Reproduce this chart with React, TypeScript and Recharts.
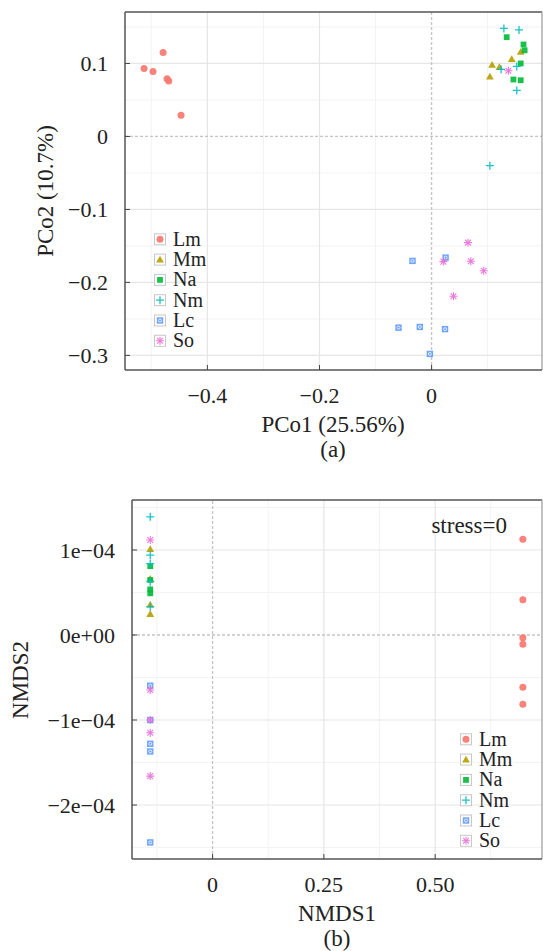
import { ScatterChart, Scatter, XAxis, YAxis, ReferenceLine } from "recharts"

// ---- PCoA scores (panel a) ----
const pcoLmX = [-0.479, -0.513, -0.497, -0.472, -0.469, -0.447]
const pcoLmY = [0.115, 0.093, 0.089, 0.079, 0.076, 0.029]
const pcoMmX = [0.159, 0.143, 0.108, 0.121, 0.104]
const pcoMmY = [0.116, 0.106, 0.098, 0.095, 0.082]
const pcoNaX = [0.134, 0.164, 0.166, 0.159, 0.146, 0.159]
const pcoNaY = [0.136, 0.126, 0.118, 0.1, 0.078, 0.077]
const pcoNmX = [0.129, 0.156, 0.124, 0.152, 0.152, 0.104]
const pcoNmY = [0.148, 0.146, 0.092, 0.096, 0.063, -0.04]
const pcoLcX = [-0.034, 0.025, -0.059, -0.021, 0.024, -0.003]
const pcoLcY = [-0.1705, -0.166, -0.262, -0.261, -0.264, -0.298]
const pcoSoX = [0.065, 0.021, 0.07, 0.093, 0.039, 0.137]
const pcoSoY = [-0.1455, -0.1715, -0.171, -0.184, -0.219, 0.09]

const pcoTicksX = [-0.4, -0.2, 0]
const pcoTicksY = [-0.3, -0.2, -0.1, 0, 0.1]
const pcoMinorX = [-0.5, -0.3, -0.1, 0.1]
const pcoMinorY = [0.15, 0.05, -0.05, -0.15, -0.25]

// ---- NMDS scores (panel b) ----
const nmdsLmX = [0.697, 0.697, 0.697, 0.697, 0.697, 0.697]
const nmdsLmY = [1.126e-4, 0.415e-4, -0.032e-4, -0.109e-4, -0.615e-4, -0.815e-4]
const nmdsMmX = [-0.14, -0.14, -0.14, -0.14]
const nmdsMmY = [1.01e-4, 0.66e-4, 0.356e-4, 0.247e-4]
const nmdsNaX = [-0.14, -0.14, -0.14, -0.14]
const nmdsNaY = [0.81e-4, 0.647e-4, 0.537e-4, 0.49e-4]
const nmdsNmX = [-0.14, -0.14, -0.14, -0.14, -0.14]
const nmdsNmY = [1.39e-4, 0.94e-4, 0.84e-4, 0.627e-4, 0.333e-4]
const nmdsLcX = [-0.14, -0.14, -0.14, -0.14, -0.14]
const nmdsLcY = [-0.596e-4, -1.0e-4, -1.28e-4, -1.37e-4, -2.44e-4]
const nmdsSoX = [-0.14, -0.14, -0.14, -0.14, -0.14]
const nmdsSoY = [1.118e-4, -0.647e-4, -1.0e-4, -1.15e-4, -1.66e-4]

const nmdsTicksX = [0, 0.25, 0.5]
const nmdsTicksY = [-2e-4, -1e-4, 0, 1e-4]
const nmdsMinorX = [-0.125, 0.125, 0.375, 0.625]
const nmdsMinorY = [1.5e-4, 0.5e-4, -0.5e-4, -1.5e-4, -2.5e-4]

const groups = ["Lm", "Mm", "Na", "Nm", "Lc", "So"]
const colors: Record<string, string> = {
    Lm: "#F8766D",
    Mm: "#B79F00",
    Na: "#00BA38",
    Nm: "#00BFC4",
    Lc: "#619CFF",
    So: "#E76BD6",
}

const FONT = "Liberation Serif, Tinos, Times New Roman, DejaVu Serif, serif"

const zip = (xs: number[], ys: number[]) => xs.map((x, i) => ({ x, y: ys[i] }))

const pcoSeries = [
    { name: "Lm", data: zip(pcoLmX, pcoLmY) },
    { name: "Mm", data: zip(pcoMmX, pcoMmY) },
    { name: "Na", data: zip(pcoNaX, pcoNaY) },
    { name: "Nm", data: zip(pcoNmX, pcoNmY) },
    { name: "Lc", data: zip(pcoLcX, pcoLcY) },
    { name: "So", data: zip(pcoSoX, pcoSoY) },
]

const nmdsSeries = [
    { name: "Lm", data: zip(nmdsLmX, nmdsLmY) },
    { name: "Mm", data: zip(nmdsMmX, nmdsMmY) },
    { name: "Na", data: zip(nmdsNaX, nmdsNaY) },
    { name: "Nm", data: zip(nmdsNmX, nmdsNmY) },
    { name: "Lc", data: zip(nmdsLcX, nmdsLcY) },
    { name: "So", data: zip(nmdsSoX, nmdsSoY) },
]

function Marker({ cx, cy, kind }: { cx: number; cy: number; kind: string }) {
    const c = colors[kind]
    switch (kind) {
        case "Lm":
            return <circle cx={cx} cy={cy} r={3.5} fill={c} opacity={0.9} />
        case "Mm":
            return <path d={`M${cx},${cy - 3.9} L${cx + 3.9},${cy + 2.9} L${cx - 3.9},${cy + 2.9} Z`} fill={c} opacity={0.9} />
        case "Na":
            return <rect x={cx - 2.9} y={cy - 2.9} width={5.8} height={5.8} fill={c} opacity={0.9} />
        case "Nm":
            return <path d={`M${cx - 4},${cy} H${cx + 4} M${cx},${cy - 4} V${cy + 4}`} stroke={c} strokeWidth={1.3} opacity={0.9} />
        case "Lc":
            return (
                <g opacity={0.9}>
                    <rect x={cx - 3.2} y={cy - 3.2} width={6.4} height={6.4} fill={c} />
                    <circle cx={cx} cy={cy} r={1.5} fill="none" stroke="#fff" strokeWidth={0.8} />
                </g>
            )
        default:
            return (
                <g stroke={c} strokeWidth={1.1} opacity={0.9}>
                    <path d={`M${cx - 4},${cy} H${cx + 4} M${cx},${cy - 4} V${cy + 4}`} />
                    <path d={`M${cx - 2.9},${cy - 2.9} L${cx + 2.9},${cy + 2.9} M${cx - 2.9},${cy + 2.9} L${cx + 2.9},${cy - 2.9}`} />
                </g>
            )
    }
}

const minus = (s: string) => s.replace(/-/g, "\u2212")

const fmtPco = (v: number) => (v === 0 ? "0" : minus(String(Math.round(v * 10) / 10)))
const fmtNmdsX = (v: number) => (v === 0 ? "0" : v.toFixed(2))
const fmtNmdsY = (v: number) => {
    if (v === 0) return "0e+00"
    const m = Math.round(v / 1e-4)
    return minus(`${m}e-04`)
}

const tickStyle = { fontFamily: FONT, fontSize: 22, fill: "#222" }
const axisLine = { stroke: "#555", strokeWidth: 1.5 }

function Legend({ x, y }: { x: number; y: number }) {
    return (
        <g>
            {groups.map((g, i) => {
                const cy = y + i * 20.3
                return (
                    <g key={g}>
                        <rect x={x - 5.5} y={cy - 5.5} width={11} height={11} fill="#fff" stroke="#c8c8c8" strokeWidth={1} />
                        <Marker cx={x} cy={cy} kind={g} />
                        <text x={x + 13} y={cy + 6.5} style={{ fontFamily: FONT, fontSize: 20 }} fill="#222">
                            {g}
                        </text>
                    </g>
                )
            })}
        </g>
    )
}

function Panel({
    series, domainX, domainY, ticksX, ticksY, minorX, minorY, fmtX, fmtY, height, marginTop, yWidth, xHeight,
}: {
    series: { name: string; data: { x: number; y: number }[] }[]
    domainX: [number, number]
    domainY: [number, number]
    ticksX: number[]
    ticksY: number[]
    minorX: number[]
    minorY: number[]
    fmtX: (v: number) => string
    fmtY: (v: number) => string
    height: number
    marginTop: number
    yWidth: number
    xHeight: number
}) {
    return (
        <ScatterChart width={543} height={height} margin={{ top: marginTop, right: 1, bottom: 0, left: 0 }} style={{ fontFamily: FONT }}>
            {minorX.map((v) => (
                <ReferenceLine key={`mx${v}`} x={v} stroke="#f3f3f3" strokeWidth={1} />
            ))}
            {minorY.map((v) => (
                <ReferenceLine key={`my${v}`} y={v} stroke="#f3f3f3" strokeWidth={1} />
            ))}
            {ticksX.filter((v) => v !== 0).map((v) => (
                <ReferenceLine key={`gx${v}`} x={v} stroke="#e6e6e6" strokeWidth={1.2} />
            ))}
            {ticksY.filter((v) => v !== 0).map((v) => (
                <ReferenceLine key={`gy${v}`} y={v} stroke="#e6e6e6" strokeWidth={1.2} />
            ))}
            <ReferenceLine x={0} stroke="#c4c4c4" strokeWidth={1.3} strokeDasharray="3 2" />
            <ReferenceLine y={0} stroke="#c4c4c4" strokeWidth={1.3} strokeDasharray="3 2" />
            <ReferenceLine y={domainY[1]} stroke="#555" strokeWidth={1.5} />
            <ReferenceLine x={domainX[1]} stroke="#999" strokeWidth={1.2} />
            <XAxis
                type="number"
                dataKey="x"
                domain={domainX}
                ticks={ticksX}
                allowDataOverflow
                height={xHeight}
                tickSize={-5}
                tickMargin={22}
                tickFormatter={fmtX}
                tick={tickStyle}
                axisLine={axisLine}
                tickLine={{ stroke: "#444" }}
            />
            <YAxis
                type="number"
                dataKey="y"
                domain={domainY}
                ticks={ticksY}
                allowDataOverflow
                width={yWidth}
                tickSize={-5}
                tickMargin={22}
                tickFormatter={fmtY}
                tick={tickStyle}
                axisLine={axisLine}
                tickLine={{ stroke: "#444" }}
            />
            {series.map((s) => (
                <Scatter
                    key={s.name}
                    name={s.name}
                    data={s.data}
                    isAnimationActive={false}
                    shape={(p: any) => <Marker cx={p.cx} cy={p.cy} kind={s.name} />}
                />
            ))}
        </ScatterChart>
    )
}

export default function App() {
    return (
        <div style={{ position: "absolute", left: 0, top: 0, width: 543, height: 951, background: "#fff", overflow: "hidden", fontFamily: FONT }}>
            <div style={{ position: "absolute", left: 0, top: 0 }}>
                <Panel
                    series={pcoSeries}
                    domainX={[-0.547, 0.197]}
                    domainY={[-0.32, 0.1705]}
                    ticksX={pcoTicksX}
                    ticksY={pcoTicksY}
                    minorX={pcoMinorX}
                    minorY={pcoMinorY}
                    fmtX={fmtPco}
                    fmtY={fmtPco}
                    height={470}
                    marginTop={12}
                    yWidth={125}
                    xHeight={100}
                />
            </div>
            <div style={{ position: "absolute", left: 0, top: 470 }}>
                <Panel
                    series={nmdsSeries}
                    domainX={[-0.181, 0.74]}
                    domainY={[-2.635e-4, 1.588e-4]}
                    ticksX={nmdsTicksX}
                    ticksY={nmdsTicksY}
                    minorX={nmdsMinorX}
                    minorY={nmdsMinorY}
                    fmtX={fmtNmdsX}
                    fmtY={fmtNmdsY}
                    height={481}
                    marginTop={30}
                    yWidth={132}
                    xHeight={92}
                />
            </div>
            <svg width={543} height={951} style={{ position: "absolute", left: 0, top: 0, pointerEvents: "none" }}>
                <g style={{ fontFamily: FONT, fontSize: 23 }} fill="#222" textAnchor="middle">
                    <text x={333} y={432}>PCo1 (25.56%)</text>
                    <text x={333} y={457}>(a)</text>
                    <text transform="translate(53,191) rotate(-90)">PCo2 (10.7%)</text>
                    <text x={337} y={921}>NMDS1</text>
                    <text x={337} y={946}>(b)</text>
                    <text transform="translate(28,680) rotate(-90)">NMDS2</text>
                    <text x={507} y={533} textAnchor="end">stress=0</text>
                </g>
                <Legend x={160} y={239.3} />
                <Legend x={466} y={739.3} />
            </svg>
        </div>
    )
}
